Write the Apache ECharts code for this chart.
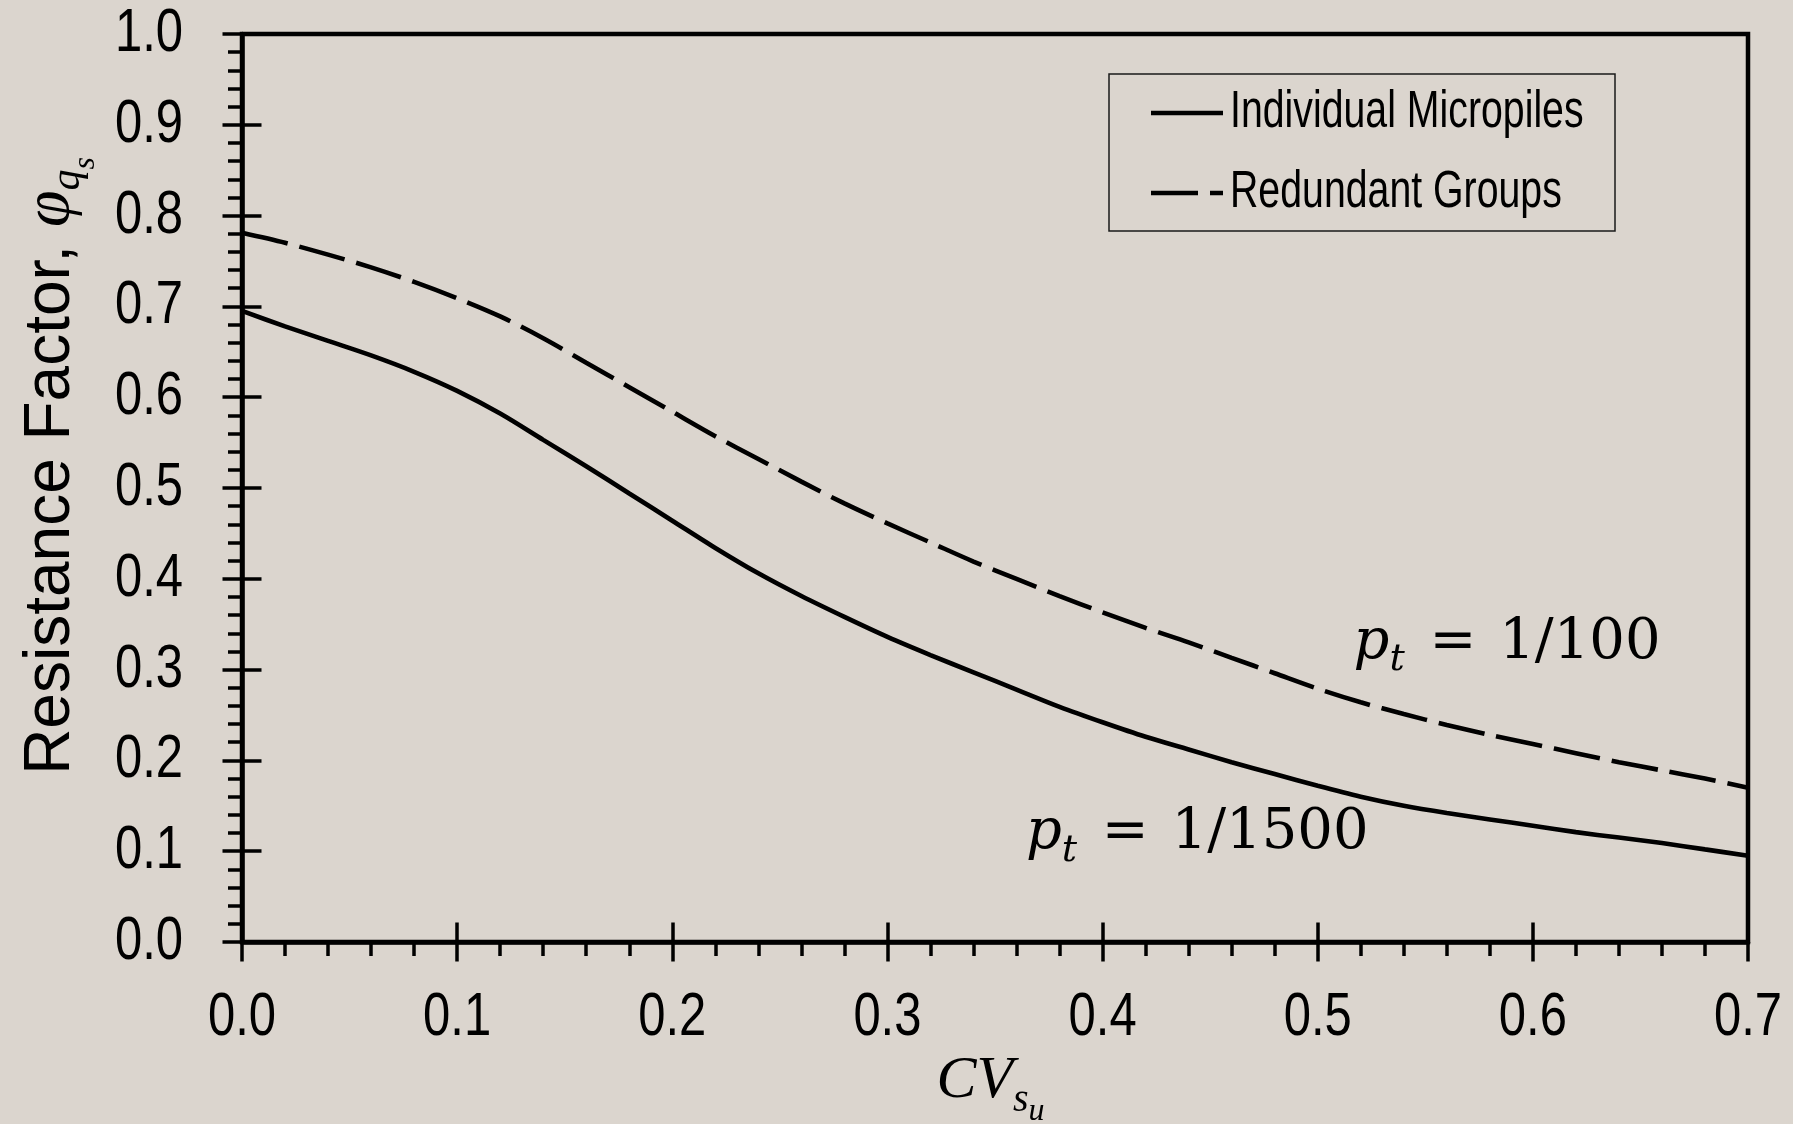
<!DOCTYPE html>
<html>
<head>
<meta charset="utf-8">
<title>Resistance Factor vs CV</title>
<script src="https://cdn.jsdelivr.net/npm/echarts@6/dist/echarts.min.js"></script>
<style>
  html, body { margin: 0; padding: 0; background: #dbd5ce; }
  #chart { width: 1793px; height: 1124px; }
</style>
</head>
<body>
<div id="chart"></div>
<script>
// Coefficient of variation of undrained shear strength (x axis)
const cvSu = [
  0.00, 0.02, 0.04, 0.06, 0.08, 0.10, 0.12, 0.14, 0.16, 0.18,
  0.20, 0.22, 0.24, 0.26, 0.28, 0.30, 0.32, 0.34, 0.36, 0.38,
  0.40, 0.42, 0.44, 0.46, 0.48, 0.50, 0.52, 0.54, 0.56, 0.58,
  0.60, 0.62, 0.64, 0.66, 0.68, 0.70
];

// Resistance factor, individual micropiles (p_t = 1/1500)
const individualMicropiles = [
  0.695, 0.678, 0.662, 0.646, 0.628, 0.607, 0.582, 0.553, 0.524, 0.494,
  0.464, 0.434, 0.406, 0.381, 0.358, 0.336, 0.316, 0.297, 0.278, 0.259,
  0.242, 0.226, 0.212, 0.198, 0.185, 0.172, 0.160, 0.150, 0.142, 0.135,
  0.128, 0.121, 0.115, 0.109, 0.102, 0.095
];

// Resistance factor, redundant groups (p_t = 1/100)
const redundantGroups = [
  0.781, 0.770, 0.757, 0.743, 0.727, 0.709, 0.689, 0.665, 0.638, 0.611,
  0.584, 0.557, 0.532, 0.507, 0.483, 0.461, 0.440, 0.419, 0.400, 0.381,
  0.363, 0.346, 0.330, 0.313, 0.296, 0.279, 0.264, 0.251, 0.239, 0.228,
  0.218, 0.208, 0.198, 0.189, 0.180, 0.170
];

const seriesNames = ['Individual Micropiles', 'Redundant Groups'];

const xTickLabels = ['0.0', '0.1', '0.2', '0.3', '0.4', '0.5', '0.6', '0.7'];
const yTickLabels = ['0.0', '0.1', '0.2', '0.3', '0.4', '0.5', '0.6', '0.7', '0.8', '0.9', '1.0'];

// Target failure probability captions, anchored in data units
const captionRatios = ['1/1500', '1/100'];
const captionAnchors = [[0.444, 0.119], [0.588, 0.329]];

const BLACK = '#000000';
const BG = '#dbd5ce';
const SANS = "'Liberation Sans', Arial, sans-serif";
const SERIF = "'DejaVu Serif', 'Liberation Serif', serif";
const ITALIC_SERIF = "'Liberation Serif', 'DejaVu Serif', serif";
const NARROW_SCALE = 0.79;   // Arial Narrow look: Liberation Sans squeezed horizontally
const CURVE_WIDTH = 4.6;

const gridRect = { left: 242, top: 34, right: 45, bottom: 182 };

const captionRich = {
  p: { fontFamily: SERIF, fontStyle: 'italic', fontSize: 56, color: BLACK },
  t: { fontFamily: SERIF, fontStyle: 'italic', fontSize: 38, color: BLACK, padding: [34, 0, 0, 0] },
  e: { fontFamily: SERIF, fontSize: 56, color: BLACK, padding: [0, 5, 0, 7] },
  n: { fontFamily: SERIF, fontSize: 56, color: BLACK }
};

function caption(i) {
  return {
    symbol: 'circle',
    symbolSize: 0,
    silent: true,
    label: {
      show: true,
      position: 'inside',
      formatter: '{p|p}{t|t}{e| = }{n|' + captionRatios[i] + '}',
      rich: captionRich
    },
    data: [{ coord: captionAnchors[i] }]
  };
}

const majorTick = { lineStyle: { color: BLACK, width: 3.5 } };
const minorTick = { show: true, splitNumber: 5, length: 14, lineStyle: { color: BLACK, width: 3.5 } };

const option = {
  backgroundColor: BG,
  animation: false,
  grid: [
    Object.assign({ show: true, borderColor: BLACK, borderWidth: 4.5, backgroundColor: 'transparent',
      containLabel: false, outerBoundsMode: 'none' }, gridRect),
    // twin grid carrying the inward half of each major tick
    Object.assign({ show: false, containLabel: false, outerBoundsMode: 'none' }, gridRect)
  ],
  xAxis: [
    {
      type: 'value', gridIndex: 0, position: 'bottom',
      min: 0, max: 0.7, interval: 0.1,
      axisLine: { show: true, onZero: false, lineStyle: { color: BLACK, width: 4.5 } },
      axisTick: Object.assign({ show: true, inside: false, length: 19.5 }, majorTick),
      minorTick: minorTick,
      splitLine: { show: false },
      minorSplitLine: { show: false },
      axisLabel: { show: false },
      name: '{cv|CV}{s|s}{u|u}',
      nameLocation: 'middle',
      nameGap: 92,
      nameTextStyle: {
        padding: [0, 9, 0, 0],
        rich: {
          cv: { fontFamily: ITALIC_SERIF, fontStyle: 'italic', fontSize: 60, color: BLACK },
          s: { fontFamily: ITALIC_SERIF, fontStyle: 'italic', fontSize: 40, color: BLACK, padding: [39, 0, 0, 0] },
          u: { fontFamily: ITALIC_SERIF, fontStyle: 'italic', fontSize: 32, color: BLACK, padding: [62, 0, 0, 0] }
        }
      }
    },
    {
      type: 'value', gridIndex: 1, position: 'bottom',
      min: 0, max: 0.7, interval: 0.1,
      axisLine: { show: false },
      axisTick: Object.assign({ show: true, inside: true, length: 19.5 }, majorTick),
      axisLabel: { show: false },
      splitLine: { show: false }
    }
  ],
  yAxis: [
    {
      type: 'value', gridIndex: 0, position: 'left',
      min: 0, max: 1, interval: 0.1,
      axisLine: { show: true, onZero: false, lineStyle: { color: BLACK, width: 4.5 } },
      axisTick: Object.assign({ show: true, inside: false, length: 19.5 }, majorTick),
      minorTick: minorTick,
      splitLine: { show: false },
      minorSplitLine: { show: false },
      axisLabel: { show: false },
      name: '{a|Resistance Factor, }{phi|φ}{q|q}{s|s}',
      nameLocation: 'middle',
      nameRotate: 90,
      nameGap: 140,
      nameTextStyle: {
        padding: [0, 0, 0, 44],
        rich: {
          a: { fontFamily: SANS, fontSize: 64, color: BLACK },
          phi: { fontFamily: ITALIC_SERIF, fontStyle: 'italic', fontSize: 66, color: BLACK },
          q: { fontFamily: ITALIC_SERIF, fontStyle: 'italic', fontSize: 42, color: BLACK, padding: [33, 0, 0, 0] },
          s: { fontFamily: ITALIC_SERIF, fontStyle: 'italic', fontSize: 32, color: BLACK, padding: [70, 0, 0, 0] }
        }
      }
    },
    {
      type: 'value', gridIndex: 1, position: 'left',
      min: 0, max: 1, interval: 0.1,
      axisLine: { show: false },
      axisTick: Object.assign({ show: true, inside: true, length: 19.5 }, majorTick),
      axisLabel: { show: false },
      splitLine: { show: false }
    }
  ],
  series: [
    {
      name: seriesNames[0],
      type: 'line',
      xAxisIndex: 0, yAxisIndex: 0,
      data: cvSu.map((x, i) => [x, individualMicropiles[i]]),
      symbol: 'none',
      showSymbol: false,
      smooth: 0.3,
      lineStyle: { color: BLACK, width: CURVE_WIDTH, type: 'solid' },
      itemStyle: { color: BLACK },
      markPoint: caption(0)
    },
    {
      name: seriesNames[1],
      type: 'line',
      xAxisIndex: 0, yAxisIndex: 0,
      data: cvSu.map((x, i) => [x, redundantGroups[i]]),
      symbol: 'none',
      showSymbol: false,
      smooth: 0.3,
      lineStyle: { color: BLACK, width: CURVE_WIDTH, type: [47, 12] },
      itemStyle: { color: BLACK },
      markPoint: caption(1)
    }
  ]
};

const chart = echarts.init(document.getElementById('chart'), null, { renderer: 'canvas' });
chart.setOption(option);

// Tick labels in a narrow face, placed through the axis scales
const xAxisY = chart.convertToPixel({ yAxisIndex: 0 }, 0);
const yAxisX = chart.convertToPixel({ xAxisIndex: 0 }, 0);
const tickText = (text, x, y, align) => ({
  type: 'text', x: x, y: y, scaleX: NARROW_SCALE, silent: true,
  style: { text: text, fontFamily: SANS, fontSize: 62, fill: BLACK, align: align, verticalAlign: 'middle' }
});
const graphics = [];
xTickLabels.forEach(t => {
  graphics.push(tickText(t, chart.convertToPixel({ xAxisIndex: 0 }, parseFloat(t)), xAxisY + 76, 'center'));
});
yTickLabels.forEach(t => {
  graphics.push(tickText(t, yAxisX - 59, chart.convertToPixel({ yAxisIndex: 0 }, parseFloat(t)), 'right'));
});

// Legend box
const legendBox = { x: 1109, y: 74, width: 506, height: 157 };
const legendRows = [113, 193];
const legendDashes = [null, [47, 12]];
graphics.push({
  type: 'rect', silent: true,
  shape: legendBox,
  style: { fill: 'none', stroke: '#1a1a1a', lineWidth: 1.5 }
});
seriesNames.forEach((name, i) => {
  graphics.push({
    type: 'line', silent: true,
    shape: { x1: 1151, y1: legendRows[i], x2: 1223, y2: legendRows[i] },
    style: { stroke: BLACK, lineWidth: CURVE_WIDTH, lineDash: legendDashes[i] }
  });
  graphics.push({
    type: 'text', x: 1230, y: legendRows[i], scaleX: 0.77, silent: true,
    style: { text: name, fontFamily: SANS, fontSize: 51, fill: BLACK, align: 'left', verticalAlign: 'middle' }
  });
});

chart.setOption({ graphic: graphics });
</script>
</body>
</html>
